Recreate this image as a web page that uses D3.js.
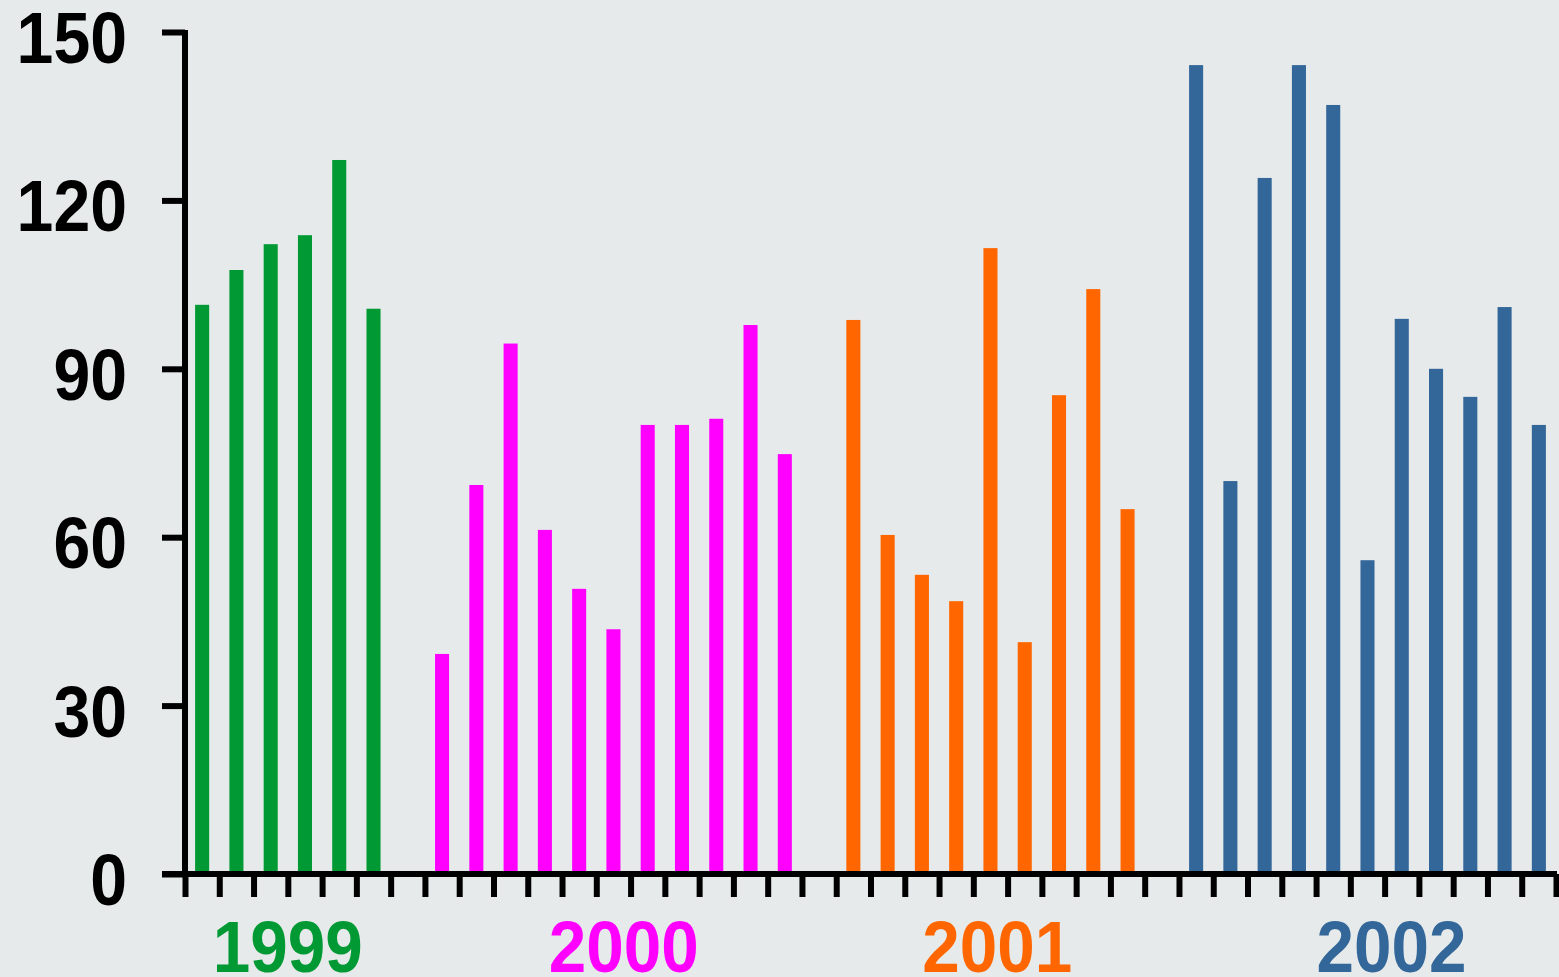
<!DOCTYPE html>
<html>
<head>
<meta charset="utf-8">
<script src="https://cdn.jsdelivr.net/npm/d3@7"></script>
<style>
  html, body { margin: 0; padding: 0; background: #e6eaea; }
  svg { display: block; }
  text { font-family: Arial, "Liberation Sans", sans-serif; font-weight: bold; }
</style>
</head>
<body>
<svg id="chart" width="1559" height="977"></svg>
<script>
// ---- data ----
const years = ["1999", "2000", "2001", "2002"];
const colors = ["#009933", "#ff00ff", "#ff6600", "#336699"];
const values1999 = [101.4, 107.6, 112.2, 113.8, 127.2, 100.7];
const values2000 = [39.2, 69.3, 94.5, 61.3, 50.8, 43.6, 80.0, 80.0, 81.1, 97.8, 74.8];
const values2001 = [98.7, 60.4, 53.3, 48.6, 111.5, 41.3, 85.3, 104.2, 65.0];
const values2002 = [144.1, 70.0, 124.0, 144.1, 137.0, 55.9, 98.9, 90.0, 85.0, 101.0, 80.0];
const yTicks = [0, 30, 60, 90, 120, 150];

// ---- layout ----
const seriesList = [values1999, values2000, values2001, values2002];
const gapSlots = 1;
const labelSlot = [3.0, 12.8, 23.7, 35.2];   // label anchor in slot units
const X0 = 185, X1 = 1556, Y0 = 874, Y1 = 32;

// build slot list
const slots = [];
let idx = 0;
seriesList.forEach((vals, g) => {
  if (g > 0) idx += gapSlots;
  vals.forEach(v => { slots.push({ slot: idx, value: v, group: g }); idx++; });
});
const nSlots = idx; // 40

const svg = d3.select("#chart");
svg.append("rect").attr("width", 1559).attr("height", 977).attr("fill", "#e6eaea");

const x = d3.scaleBand()
  .domain(d3.range(nSlots))
  .range([X0, X1])
  .paddingInner(0.59)
  .paddingOuter(0.295);
const xLin = d3.scaleLinear().domain([0, nSlots]).range([X0, X1]);
const y = d3.scaleLinear().domain([0, 150]).range([Y0, Y1]);

// bars
svg.append("g").selectAll("rect")
  .data(slots)
  .join("rect")
  .attr("x", d => x(d.slot))
  .attr("width", x.bandwidth())
  .attr("y", d => y(d.value))
  .attr("height", d => y(0) - y(d.value))
  .attr("fill", d => colors[d.group]);

// y axis
const yAxis = svg.append("g")
  .attr("transform", `translate(${X0},0)`)
  .call(d3.axisLeft(y).tickValues(yTicks).tickSize(23).tickSizeOuter(0).tickFormat(""));
yAxis.select(".domain").attr("stroke", "#000").attr("stroke-width", 6)
  .attr("d", `M0,${Y1 - 2}V${Y0 + 3}`);
yAxis.selectAll(".tick line").attr("stroke", "#000").attr("stroke-width", 6);

// y labels
const perChar = 36.8;
svg.append("g").selectAll("text")
  .data(yTicks)
  .join("text")
  .attr("x", 127)
  .attr("y", d => y(d) + 31)
  .attr("text-anchor", "end")
  .attr("font-size", 73)
  .attr("fill", "#000")
  .attr("textLength", d => String(d).length * perChar)
  .attr("lengthAdjust", "spacingAndGlyphs")
  .text(d => d);

// x axis
const xAxis = svg.append("g")
  .attr("transform", `translate(0,${Y0})`)
  .call(d3.axisBottom(xLin).tickValues(d3.range(nSlots + 1)).tickSize(23).tickSizeOuter(0).tickFormat(""));
xAxis.select(".domain").attr("stroke", "#000").attr("stroke-width", 6)
  .attr("d", `M${X0 - 23},0H${X1 + 1}`);
xAxis.selectAll(".tick line").attr("stroke", "#000").attr("stroke-width", 6);

// year labels
svg.append("g").selectAll("text")
  .data(years)
  .join("text")
  .attr("x", (d, i) => xLin(labelSlot[i]))
  .attr("y", 972)
  .attr("text-anchor", "middle")
  .attr("font-size", 72)
  .attr("fill", (d, i) => colors[i])
  .attr("textLength", d => d.length * 37.5)
  .attr("lengthAdjust", "spacingAndGlyphs")
  .text(d => d);
</script>
</body>
</html>
